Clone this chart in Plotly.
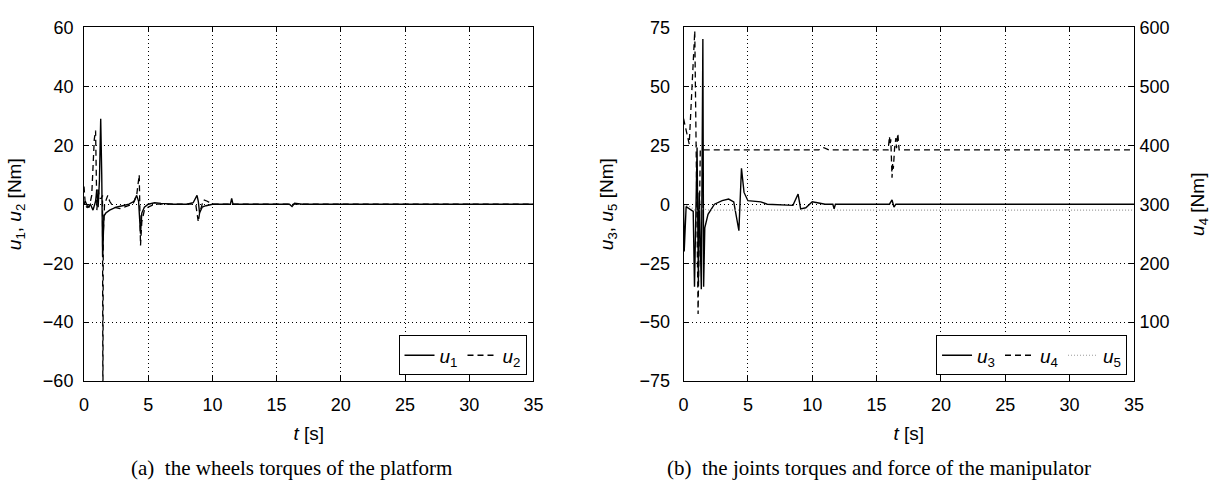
import plotly.graph_objects as go

# ---- (a) wheel torques of the platform ----
t_u1 = [0, 0.1, 0.3, 0.5, 0.7, 0.9, 1.0, 1.1, 1.2, 1.3, 1.38, 1.45, 1.55, 1.7, 2.0, 2.5, 3.0,
        3.5, 3.9, 4.1, 4.25, 4.4, 4.5, 4.7, 5.0, 5.5, 6.0, 7.0, 8.0, 8.5, 8.8, 8.9, 9.0, 9.2,
        9.5, 10, 11, 11.4, 11.5, 11.6, 12, 15, 16, 16.2, 16.4, 17, 20, 35]
u1 = [0, 1, -1, 0, -2, 1, 5, -1, 8, 29, 10, -18, -4, -3, -2, -1, -0.5,
      0, 1, 3, 1, -10, -3, -1, 0, 0.5, 0.3, 0, 0, 0.5, 3, 1, -3, -1,
      -0.5, 0, 0, 0, 2, 0, 0, 0, 0, -0.8, 0.3, 0, 0, 0]

t_u2 = [0, 0.1, 0.2, 0.4, 0.6, 0.8, 0.9, 1.0, 1.1, 1.2, 1.35, 1.44, 1.47, 1.5, 1.6, 1.85, 2.0,
        2.3, 2.8, 3.2, 3.8, 4.1, 4.3, 4.4, 4.5, 4.7, 5.0, 5.5, 6, 8, 8.7, 8.9, 9.0, 9.3, 9.6,
        10, 11, 16, 35]
u2 = [6, 0, -1, -1, 3, 22, 25, -2, 5, 2, 2, 3, -75, -10, 0, 3, 1,
      -1, -1.5, -1, 0, 3, 10, -14, -6, -2, -1, 0, 0, 0, 0, -6, -3, 1.5, 1,
      0, 0, 0, 0]

# ---- (b) joint torques and force of the manipulator ----
t_u3 = [0, 0.05, 0.2, 0.5, 0.75, 0.85, 0.95, 1.05, 1.15, 1.22, 1.38, 1.5, 1.56, 1.65, 1.9,
        2.4, 3.0, 3.5, 3.9, 4.3, 4.5, 4.7, 5.0, 6.0, 6.5, 8.5, 8.9, 9.1, 9.5, 10, 10.5, 11,
        11.6, 11.7, 11.8, 12, 16.0, 16.2, 16.35, 16.5, 17, 35]
u3 = [0, -20, -1, -2, -3, -35, 0, 24, -33, 5, -36, 70, -35, -10, -4.3,
      0, 1.5, 2.2, 1, -11.2, 15.2, 5, 1.5, 1, 0, -0.5, 4.3, -2, -1.5, 1, 0.5, 0,
      0, -2, 0, 0, 0, 1.8, -1.2, 0, 0, 0]

t_u4 = [0, 0.44, 0.87, 1.13, 1.3, 10.5, 10.9, 11.3, 15.9, 16.0, 16.05, 16.1, 16.15, 16.2,
        16.25, 16.3, 16.4, 16.5, 16.55, 16.65, 16.75, 35]
u4 = [445, 402, 594, 114, 392, 392, 396, 392, 392, 415, 400, 410, 380, 345,
      370, 360, 395, 412, 395, 420, 392, 392]

t_u5 = [0, 0.5, 1.0, 1.5, 2.0, 35]
u5 = [0, -1, -3, -2, -2.5, -2.5]

FONT = "Liberation Sans"
SERIF = "Liberation Serif"
BLACK = "#000000"
TICK = 18
TITLE = 19

fig = go.Figure()
fig.add_trace(go.Scatter(x=t_u1, y=u1, mode="lines", name="<i>u</i><sub>1</sub>",
                         line=dict(color=BLACK, width=1.4), xaxis="x", yaxis="y", legend="legend"))
fig.add_trace(go.Scatter(x=t_u2, y=u2, mode="lines", name="<i>u</i><sub>2</sub>",
                         line=dict(color=BLACK, width=1.3, dash="6px,4px"), xaxis="x", yaxis="y",
                         legend="legend"))
fig.add_trace(go.Scatter(x=t_u3, y=u3, mode="lines", name="<i>u</i><sub>3</sub>",
                         line=dict(color=BLACK, width=1.4), xaxis="x2", yaxis="y2", legend="legend2"))
fig.add_trace(go.Scatter(x=t_u4, y=u4, mode="lines", name="<i>u</i><sub>4</sub>",
                         line=dict(color=BLACK, width=1.3, dash="6px,4px"), xaxis="x2", yaxis="y3",
                         legend="legend2"))
fig.add_trace(go.Scatter(x=t_u5, y=u5, mode="lines", name="<i>u</i><sub>5</sub>",
                         line=dict(color="#9a9a9a", width=1.2, dash="1px,2px"), xaxis="x2", yaxis="y2",
                         legend="legend2"))

ax_common = dict(showline=True, linecolor=BLACK, linewidth=1, ticks="inside", ticklen=5,
                 tickcolor=BLACK, showgrid=True, gridcolor=BLACK, gridwidth=1, griddash="1px,3px",
                 zeroline=False, tickfont=dict(family=FONT, size=TICK, color=BLACK))

xdom_a = [80 / 1221, 535 / 1221]
xdom_b = [687 / 1221, 1143 / 1221]
ydom = [1 - 387 / 489, 1 - 18 / 489]

title_font = dict(family=FONT, size=TITLE, color=BLACK)
legend_common = dict(orientation="h", y=1 - 381 / 489, xanchor="right", yanchor="bottom",
                     bordercolor=BLACK, borderwidth=1, bgcolor="white",
                     font=dict(family=FONT, size=19, color=BLACK), itemwidth=30, tracegroupgap=0)

fig.update_layout(
    width=1221, height=489, margin=dict(l=0, r=0, t=0, b=0),
    paper_bgcolor="white", plot_bgcolor="white",
    xaxis=dict(**ax_common, domain=xdom_a, range=[0, 35], dtick=5, mirror="ticks", anchor="y",
               ticklabelstandoff=7,
               title=dict(text="<i>t</i> [s]", font=title_font, standoff=12)),
    yaxis=dict(**ax_common, domain=ydom, range=[-60, 60], dtick=20, mirror="ticks", anchor="x",
               ticklabelstandoff=6,
               title=dict(text="<i>u</i><sub>1</sub>, <i>u</i><sub>2</sub> [Nm]", font=title_font,
                          standoff=16)),
    xaxis2=dict(**ax_common, domain=xdom_b, range=[0, 35], dtick=5, mirror="ticks", anchor="y2",
                ticklabelstandoff=7,
                title=dict(text="<i>t</i> [s]", font=title_font, standoff=12)),
    yaxis2=dict(**ax_common, domain=ydom, range=[-75, 75], dtick=25, mirror=True, anchor="x2",
                ticklabelstandoff=9,
                title=dict(text="<i>u</i><sub>3</sub>, <i>u</i><sub>5</sub> [Nm]", font=title_font,
                           standoff=20)),
    yaxis3=dict(showline=True, linecolor=BLACK, linewidth=1, ticks="inside", ticklen=5,
                tickcolor=BLACK, showgrid=False, zeroline=False, overlaying="y2", side="right",
                anchor="x2", range=[0, 600], tickvals=[100, 200, 300, 400, 500, 600],
                tickfont=dict(family=FONT, size=TICK, color=BLACK), ticklabelstandoff=1,
                title=dict(text="<i>u</i><sub>4</sub> [Nm]", font=title_font, standoff=22)),
    legend=dict(**legend_common, x=528 / 1221),
    legend2=dict(**legend_common, x=1136 / 1221),
    annotations=[
        dict(text="(a)  the wheels torques of the platform", x=290 / 1221, y=1 - 478 / 489,
             xref="paper", yref="paper", xanchor="center", yanchor="middle", showarrow=False,
             font=dict(family=SERIF, size=21, color=BLACK)),
        dict(text="(b)  the joints torques and force of the manipulator", x=885 / 1221,
             y=1 - 478 / 489, xref="paper", yref="paper", xanchor="center", yanchor="middle",
             showarrow=False, font=dict(family=SERIF, size=21, color=BLACK)),
    ],
)

fig.write_html("out.html")
